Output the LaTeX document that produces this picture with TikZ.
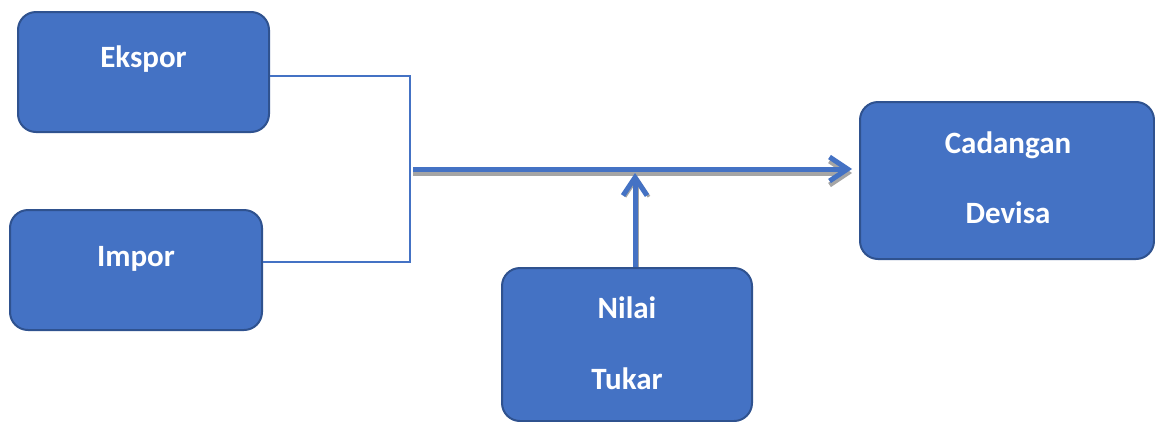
\documentclass[tikz,border=0pt]{standalone}
\usepackage{fontspec}
\setmainfont{Carlito}
\usetikzlibrary{arrows.meta,calc}
\definecolor{boxfill}{HTML}{4472C4}
\definecolor{boxline}{HTML}{2F528F}
\definecolor{shadowgray}{HTML}{A5A5A5}
\tikzset{
  box/.style={draw=boxline, line width=2pt, fill=boxfill, rounded corners=18pt, inner sep=0pt},
  lbl/.style={text=white, font=\fontsize{31}{36}\selectfont\bfseries, anchor=base, inner sep=0pt},
  thin/.style={draw=boxfill, line width=2.4pt},
  thick/.style={draw=boxfill, line width=5pt, -{Straight Barb[length=18pt,width=24pt]}},
  shade/.style={draw=shadowgray, line width=5pt, -{Straight Barb[length=18pt,width=24pt]}}
}
\begin{document}
\begin{tikzpicture}[x=1pt,y=-1pt]
\useasboundingbox (0,0) rectangle (1155,421);
\node[box, minimum width=251pt, minimum height=120pt] (ekspor) at (143.5,72) {};
\node[box, minimum width=252pt, minimum height=120pt] (impor) at (136,270) {};
\node[box, minimum width=294pt, minimum height=157pt] (cadangan) at (1007,180.5) {};
\node[box, minimum width=250pt, minimum height=153pt] (nilai) at (627,344.5) {};
\node[lbl] (t1) at (143.5,67) {Ekspor};
\node[lbl] (t2) at (136,266) {Impor};
\node[lbl] (t3) at (1008,153) {Cadangan};
\node[lbl] (t4) at (1008,223) {Devisa};
\node[lbl] (t5) at (627,318) {Nilai};
\node[lbl] (t6) at (627,389) {Tukar};
\coordinate (jt) at (410,76);
\coordinate (jb) at (410,262);
\coordinate (ms) at (413,169);
\coordinate (me) at (852,169);
\coordinate (vs) at ($(nilai.north)+(8,0)$);
\coordinate (ve) at (635,173);
% bracket
\draw[thin] (ekspor.east |- jt) -- (jt) -- (jb) -- (impor.east |- jb);
% shadows
\draw[shade] ($(ms)+(0,4)$) -- ($(me)+(0,4)$);
\draw[shade, line width=3pt] ($(vs)+(2,0)$) -- ($(ve)+(2,3)$);
% main arrows
\draw[thick] (ms) -- (me);
\draw[thick] (vs) -- (ve);
\end{tikzpicture}
\end{document}
